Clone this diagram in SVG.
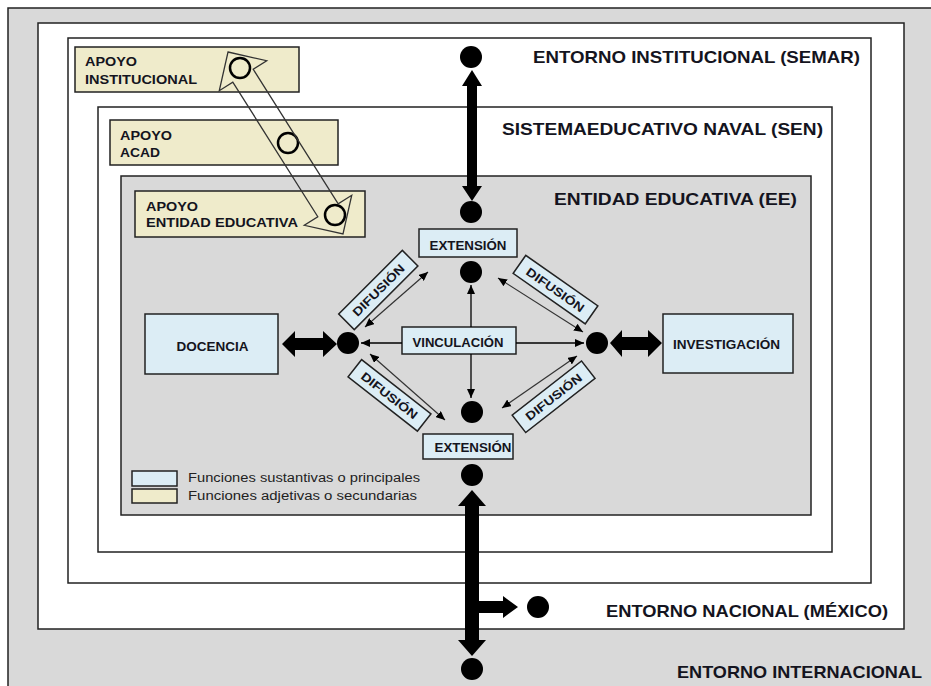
<svg xmlns="http://www.w3.org/2000/svg" width="931" height="686" viewBox="0 0 931 686">
<style>
.frame{stroke:#222;stroke-width:1.5}
.gray{fill:#d9d9d9}
.white{fill:#fff}
.tan{fill:#efebcb;stroke:#222;stroke-width:1.5}
.blue{fill:#dcedf5;stroke:#222;stroke-width:1.5}
.title{font-family:"Liberation Sans",Arial,sans-serif;font-weight:bold;font-size:17px;fill:#141420}
.lbl{font-family:"Liberation Sans",Arial,sans-serif;font-weight:bold;font-size:13px;fill:#141420}
.ctr{font-family:"Liberation Sans",Arial,sans-serif;font-weight:bold;font-size:12px;fill:#141420;text-anchor:middle}
.leg{font-family:"Liberation Sans",Arial,sans-serif;font-size:12px;fill:#222}
.dot{fill:#000}
.ring{fill:none;stroke:#000;stroke-width:2.5}
.thin{stroke:#000;stroke-width:1.3;fill:none}
.dif{stroke:#333;stroke-width:1.2;fill:none}
.big{fill:#000}
</style>
<defs>
<marker id="ah" markerUnits="userSpaceOnUse" markerWidth="9" markerHeight="8" refX="9" refY="4" orient="auto-start-reverse">
<path d="M0,0 L9,4 L0,8 z" fill="#000"/>
</marker>
</defs>

<g id="entorno-internacional">
<rect x="8" y="8" width="940" height="700" class="gray frame"/>
<text x="677" y="678" class="title" textLength="245" lengthAdjust="spacingAndGlyphs">ENTORNO INTERNACIONAL</text>
</g>
<g id="entorno-nacional">
<rect x="38" y="23" width="866" height="606" class="white frame"/>
<text x="606" y="617" class="title" textLength="282" lengthAdjust="spacingAndGlyphs">ENTORNO NACIONAL (MÉXICO)</text>
</g>
<g id="entorno-institucional">
<rect x="68" y="38" width="803" height="545" class="white frame"/>
<text x="533" y="63" class="title" textLength="327" lengthAdjust="spacingAndGlyphs">ENTORNO INSTITUCIONAL (SEMAR)</text>
</g>
<g id="sen">
<rect x="98" y="107" width="734" height="445" class="white frame"/>
<text x="502" y="135" class="title" textLength="321" lengthAdjust="spacingAndGlyphs">SISTEMAEDUCATIVO NAVAL  (SEN)</text>
</g>
<g id="ee">
<rect x="121" y="176" width="690" height="339" class="gray frame"/>
<text x="554" y="205" class="title" textLength="243" lengthAdjust="spacingAndGlyphs">ENTIDAD EDUCATIVA  (EE)</text>
</g>

<g id="apoyo-institucional">
<rect x="75" y="47" width="224" height="45" class="tan"/>
<text x="85" y="66" class="lbl" textLength="52" lengthAdjust="spacingAndGlyphs">APOYO</text>
<text x="85" y="84" class="lbl" textLength="112" lengthAdjust="spacingAndGlyphs">INSTITUCIONAL</text>
<circle cx="240" cy="68" r="10" class="ring"/>
</g>
<g id="apoyo-acad">
<rect x="110" y="120" width="228" height="45" class="tan"/>
<text x="120" y="140" class="lbl" textLength="52" lengthAdjust="spacingAndGlyphs">APOYO</text>
<text x="120" y="157" class="lbl" textLength="40" lengthAdjust="spacingAndGlyphs">ACAD</text>
<circle cx="288" cy="143" r="10" class="ring"/>
</g>
<g id="apoyo-ee">
<rect x="135" y="191" width="230" height="46" class="tan"/>
<text x="146" y="211" class="lbl" textLength="52" lengthAdjust="spacingAndGlyphs">APOYO</text>
<text x="146" y="227" class="lbl" textLength="152" lengthAdjust="spacingAndGlyphs">ENTIDAD EDUCATIVA</text>
<circle cx="335" cy="215" r="10" class="ring"/>
</g>

<g id="extension-top">
<rect x="419" y="229" width="98" height="28" class="blue"/>
<text x="468" y="250" class="ctr" textLength="77" lengthAdjust="spacingAndGlyphs">EXTENSIÓN</text>
</g>
<g id="extension-bottom">
<rect x="423" y="434" width="90" height="25" class="blue"/>
<text x="473" y="452" class="ctr" textLength="77" lengthAdjust="spacingAndGlyphs">EXTENSIÓN</text>
</g>
<g id="vinculacion">
<rect x="402" y="327" width="114" height="27" class="blue"/>
<text x="458" y="347" class="ctr" textLength="91" lengthAdjust="spacingAndGlyphs">VINCULACIÓN</text>
</g>
<g id="docencia">
<rect x="145" y="314" width="133" height="60" class="blue"/>
<text x="212.5" y="351" class="ctr" textLength="72" lengthAdjust="spacingAndGlyphs">DOCENCIA</text>
</g>
<g id="investigacion">
<rect x="663" y="314" width="130" height="59" class="blue"/>
<text x="726.5" y="349" class="ctr" textLength="107" lengthAdjust="spacingAndGlyphs">INVESTIGACIÓN</text>
</g>
<g id="difusion-tl" transform="translate(378.3,290) rotate(-45)">
<rect x="-45" y="-11" width="90" height="22" class="blue"/>
<text x="0" y="4.5" class="ctr" textLength="68" lengthAdjust="spacingAndGlyphs">DIFUSIÓN</text>
</g>
<g id="difusion-tr" transform="translate(555.5,289.6) rotate(35)">
<rect x="-44" y="-11" width="88" height="22" class="blue"/>
<text x="0" y="4.5" class="ctr" textLength="68" lengthAdjust="spacingAndGlyphs">DIFUSIÓN</text>
</g>
<g id="difusion-bl" transform="translate(389.5,395.4) rotate(38)">
<rect x="-44" y="-11" width="88" height="22" class="blue"/>
<text x="0" y="4.5" class="ctr" textLength="68" lengthAdjust="spacingAndGlyphs">DIFUSIÓN</text>
</g>
<g id="difusion-br" transform="translate(553.6,396.7) rotate(-38)">
<rect x="-44" y="-11" width="88" height="22" class="blue"/>
<text x="0" y="4.5" class="ctr" textLength="68" lengthAdjust="spacingAndGlyphs">DIFUSIÓN</text>
</g>

<g id="dots">
<circle cx="471" cy="57" r="11" class="dot"/>
<circle cx="471" cy="212" r="11" class="dot"/>
<circle cx="471" cy="272" r="11" class="dot"/>
<circle cx="348" cy="343" r="11" class="dot"/>
<circle cx="597" cy="343" r="11" class="dot"/>
<circle cx="472" cy="412" r="11" class="dot"/>
<circle cx="472" cy="475" r="11" class="dot"/>
<circle cx="538" cy="607" r="11" class="dot"/>
<circle cx="472" cy="669" r="11" class="dot"/>
</g>

<g id="legend">
<rect x="132" y="471" width="45" height="15" class="blue"/>
<rect x="132" y="489" width="45" height="14" class="tan"/>
<text x="188" y="482" class="leg" textLength="232" lengthAdjust="spacingAndGlyphs">Funciones sustantivas o principales</text>
<text x="188" y="500" class="leg" textLength="229" lengthAdjust="spacingAndGlyphs">Funciones adjetivas o secundarias</text>
</g>

<g id="connectors">
<polygon points="228,52 266.7,60.7 253.2,69.3 338.2,203.9 351.7,195.3 343,234 304.3,225.3 317.8,216.7 232.8,82.1 219.3,90.7" fill="none" stroke="#333" stroke-width="1.3"/>
<polygon class="big" points="472,70 482,86 477,86 477,186 482,186 472,201 462,186 467,186 467,86 462,86"/>
<polygon class="big" points="472,490 486,506 479,506 479,601 503,601 503,596 518,607 503,618 503,613 479,613 479,640 486,640 472,656 458,640 465,640 465,506 458,506"/>
<polygon class="big" points="282,344 295,331 295,338 323,338 323,331 337,344 323,357 323,350 295,350 295,357"/>
<polygon class="big" points="610,343 622,330 622,337 648,337 648,330 662,343 648,357 648,350 622,350 622,357"/>
<line x1="402" y1="343" x2="361" y2="343" class="thin" marker-end="url(#ah)"/>
<line x1="516" y1="343" x2="584" y2="343" class="thin" marker-end="url(#ah)"/>
<line x1="471" y1="327" x2="471" y2="285" class="thin" marker-end="url(#ah)"/>
<line x1="471" y1="354" x2="471" y2="398" class="thin" marker-end="url(#ah)"/>
<line x1="365" y1="327" x2="428" y2="272" class="dif" marker-start="url(#ah)" marker-end="url(#ah)"/>
<line x1="498" y1="278" x2="583" y2="332" class="dif" marker-start="url(#ah)" marker-end="url(#ah)"/>
<line x1="370" y1="354" x2="445" y2="420" class="dif" marker-start="url(#ah)" marker-end="url(#ah)"/>
<line x1="502" y1="408" x2="577" y2="356" class="dif" marker-start="url(#ah)" marker-end="url(#ah)"/>
</g>
</svg>
